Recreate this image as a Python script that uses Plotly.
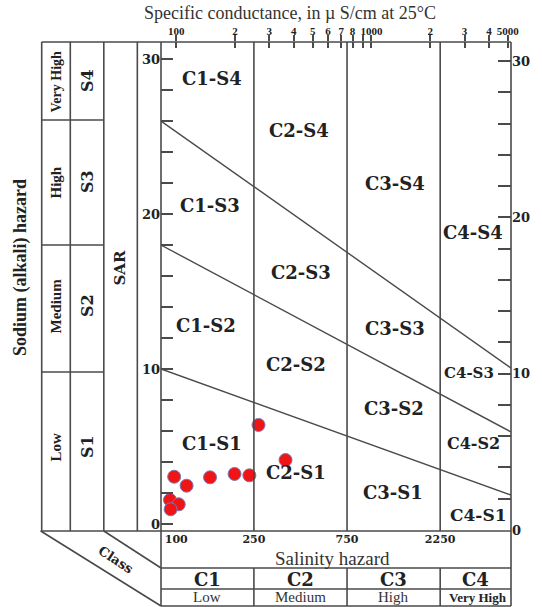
import math
import plotly.graph_objects as go

# ---------------- data ----------------
ec = [264, 363, 97.6, 113, 149, 199, 237, 92.9, 103, 93.6]          # µS/cm
sar = [6.39, 4.13, 3.05, 2.47, 3.01, 3.23, 3.14, 1.55, 1.27, 0.95]   # SAR

class_bounds = [250, 750, 2250]                 # salinity class limits
x_log_range = [1.922, 3.715]                    # log10 EC at plot edges
y_range = [-0.452, 31.10]                       # SAR axis (left)
y2_range = [-0.064, 31.22]                      # SAR axis (right)

line_s1_s2 = [10.0, 1.87]                       # SAR at left / right edge
line_s2_s3 = [18.0, 5.94]
line_s3_s4 = [26.0, 10.06]

top_tick_values = [100, 200, 300, 400, 500, 600, 700, 800, 900, 1000, 2000, 3000, 4000, 5000]
top_tick_labels = ["100", "2", "3", "4", "5", "6", "7", "8", "", "1000", "2", "3", "4", "5000"]
bottom_tick_values = [100, 250, 750, 2250]
bottom_tick_labels = ["100", "250", "750", "2250"]
sar_tick_values = list(range(0, 31, 2))
sar_tick_labels = [str(v) if v % 10 == 0 else "" for v in sar_tick_values]

salinity_classes = ["C1", "C2", "C3", "C4"]
salinity_levels = ["Low", "Medium", "High", "Very High"]
sodium_classes = ["S4", "S3", "S2", "S1"]
sodium_levels = ["Very High", "High", "Medium", "Low"]

# ---------------- geometry / style ----------------
W, H = 542, 607
PL, PR, PT, PB = 161, 516, 42, 531
LC = "#4a4a4a"
TC = "#222222"
SERIF = "Liberation Serif"
BSERIF = "DejaVu Serif"


def fx(px):
    return (px - PL) / (PR - PL)


def fy(py):
    return (PB - py) / (PB - PT)


def xpix(v):
    return PL + (math.log10(v) - x_log_range[0]) / (x_log_range[1] - x_log_range[0]) * (PR - PL)


fig = go.Figure()

x_edges = [10 ** x_log_range[0], 10 ** x_log_range[1]]
for ys in (line_s1_s2, line_s2_s3, line_s3_s4):
    fig.add_trace(go.Scatter(x=x_edges, y=ys, mode="lines", xaxis="x3", yaxis="y",
                             line=dict(color=LC, width=1.4),
                             hoverinfo="skip", showlegend=False))
for b in class_bounds:
    fig.add_trace(go.Scatter(x=[b, b], y=y2_range, mode="lines", xaxis="x2", yaxis="y2",
                             line=dict(color=LC, width=1.6),
                             hoverinfo="skip", showlegend=False))

fig.add_trace(go.Scatter(x=ec, y=sar, mode="markers", xaxis="x", yaxis="y",
                         marker=dict(size=13, color="#f01414",
                                     line=dict(color="#7a78b8", width=1)),
                         showlegend=False))

# ---------------- table lines ----------------
shapes = []


def seg(x0, y0, x1, y1, w=1.6):
    shapes.append(dict(type="line", xref="paper", yref="paper",
                       x0=fx(x0), y0=fy(y0), x1=fx(x1), y1=fy(y1),
                       line=dict(color=LC, width=w)))


seg(40, PT, PR, PT)
seg(39, PB, PR, PB)
seg(PL, PT, PL, 606)
seg(PR, PT, PR, 606)
for xv in (40, 69, 103, 137):
    seg(xv, PT, xv, PB)
for yv in (120, 245, 372):
    seg(40, yv, 103, yv)
seg(39, PB, PL, 606)
seg(103, PB, PL, 568)
for yv in (568, 589, 606):
    seg(PL, yv, PR, yv)
for b in class_bounds:
    seg(xpix(b), 568, xpix(b), 606)

# ---------------- annotations ----------------
ann = []


def txt(t, x, y, size, family=SERIF, bold=False, angle=0, color=TC):
    ann.append(dict(text=t, xref="paper", yref="paper", x=fx(x), y=fy(y),
                    xanchor="center", yanchor="middle", showarrow=False,
                    textangle=angle,
                    font=dict(family=family, size=size, color=color,
                              weight="bold" if bold else "normal")))


txt("Specific conductance, in µ S/cm at 25°C", 292, 13, 18, color="#333333")
txt("Sodium (alkali) hazard", 18, 268, 18, bold=True, angle=-90)
txt("SAR", 119, 268, 15, family=BSERIF, bold=True, angle=-90)

row_centers = [81, 182, 306, 447]
for lvl, cls, yc in zip(sodium_levels, sodium_classes, row_centers):
    txt(lvl, 55, yc, 14 if lvl == "Very High" else 15, bold=True, angle=-90)
    txt(cls, 86, yc, 16, family=BSERIF, bold=True, angle=-90)

txt("Salinity hazard", 335, 558, 19, color="#333333")
txt("Class", 115, 559, 13, family=BSERIF, bold=True, angle=33)

col_edges = [PL] + [xpix(b) for b in class_bounds] + [PR]
for i, (cls, lvl) in enumerate(zip(salinity_classes, salinity_levels)):
    xc = (col_edges[i] + col_edges[i + 1]) / 2
    txt(cls, xc, 579, 18, family=BSERIF, bold=True)
    if lvl == "Very High":
        txt(lvl, xc + 2, 597, 13, bold=True)
    else:
        txt(lvl, xc, 597, 15, color="#333333")

regions = [
    ("C1-S4", 213, 78, 18), ("C2-S4", 301, 130, 18), ("C3-S4", 398, 183, 18), ("C4-S4", 477, 232, 18),
    ("C1-S3", 211, 205, 18), ("C2-S3", 303, 272, 18), ("C3-S3", 398, 328, 18), ("C4-S3", 473, 373, 15),
    ("C1-S2", 207, 325, 18), ("C2-S2", 298, 364, 18), ("C3-S2", 397, 408, 18), ("C4-S2", 478, 443, 16),
    ("C1-S1", 213, 443, 18), ("C2-S1", 298, 472, 18), ("C3-S1", 396, 492, 18), ("C4-S1", 483, 515, 17),
]
for t, x, y, s in regions:
    txt(t, x, y, s, family=BSERIF, bold=True)

axis_common = dict(showgrid=False, zeroline=False, showline=False)

fig.update_layout(
    width=W, height=H,
    margin=dict(l=PL, r=W - PR, t=PT, b=H - PB, pad=0),
    paper_bgcolor="white", plot_bgcolor="white",
    showlegend=False,
    shapes=shapes, annotations=ann,
    xaxis=dict(type="log", range=x_log_range, tickmode="array",
               tickvals=bottom_tick_values, ticktext=bottom_tick_labels, tickangle=0,
               ticks="", tickfont=dict(family=BSERIF, size=11, color=TC, weight="bold"),
               **axis_common),
    xaxis2=dict(type="log", range=x_log_range, overlaying="x", side="top", anchor="y",
                tickmode="array", tickvals=top_tick_values, ticktext=top_tick_labels,
                tickangle=0, ticks="outside", ticklen=6, tickwidth=1.5, tickcolor=LC,
                ticklabelstandoff=-4,
                tickfont=dict(family=SERIF, size=11, color=TC, weight="bold"),
                **axis_common),
    xaxis3=dict(type="log", range=x_log_range, overlaying="x", side="top", anchor="y",
                tickmode="array", tickvals=top_tick_values,
                ticks="inside", ticklen=6, tickwidth=1.5, tickcolor=LC,
                showticklabels=False, **axis_common),
    yaxis=dict(range=y_range, tickmode="array", tickvals=sar_tick_values,
               ticktext=sar_tick_labels, ticks="inside", ticklen=12, tickwidth=1.5,
               tickcolor=LC, tickfont=dict(family=BSERIF, size=13, color=TC, weight="bold"),
               **axis_common),
    yaxis2=dict(range=y2_range, overlaying="y", side="right", anchor="x",
                tickmode="array", tickvals=sar_tick_values, ticktext=sar_tick_labels,
                ticks="inside", ticklen=13, tickwidth=1.5, tickcolor=LC,
                tickfont=dict(family=BSERIF, size=13, color=TC, weight="bold"),
                **axis_common),
)

fig.write_html("out.html", config={"displayModeBar": False},
               post_script="document.body.style.margin='0px';document.body.style.overflow='hidden';")
